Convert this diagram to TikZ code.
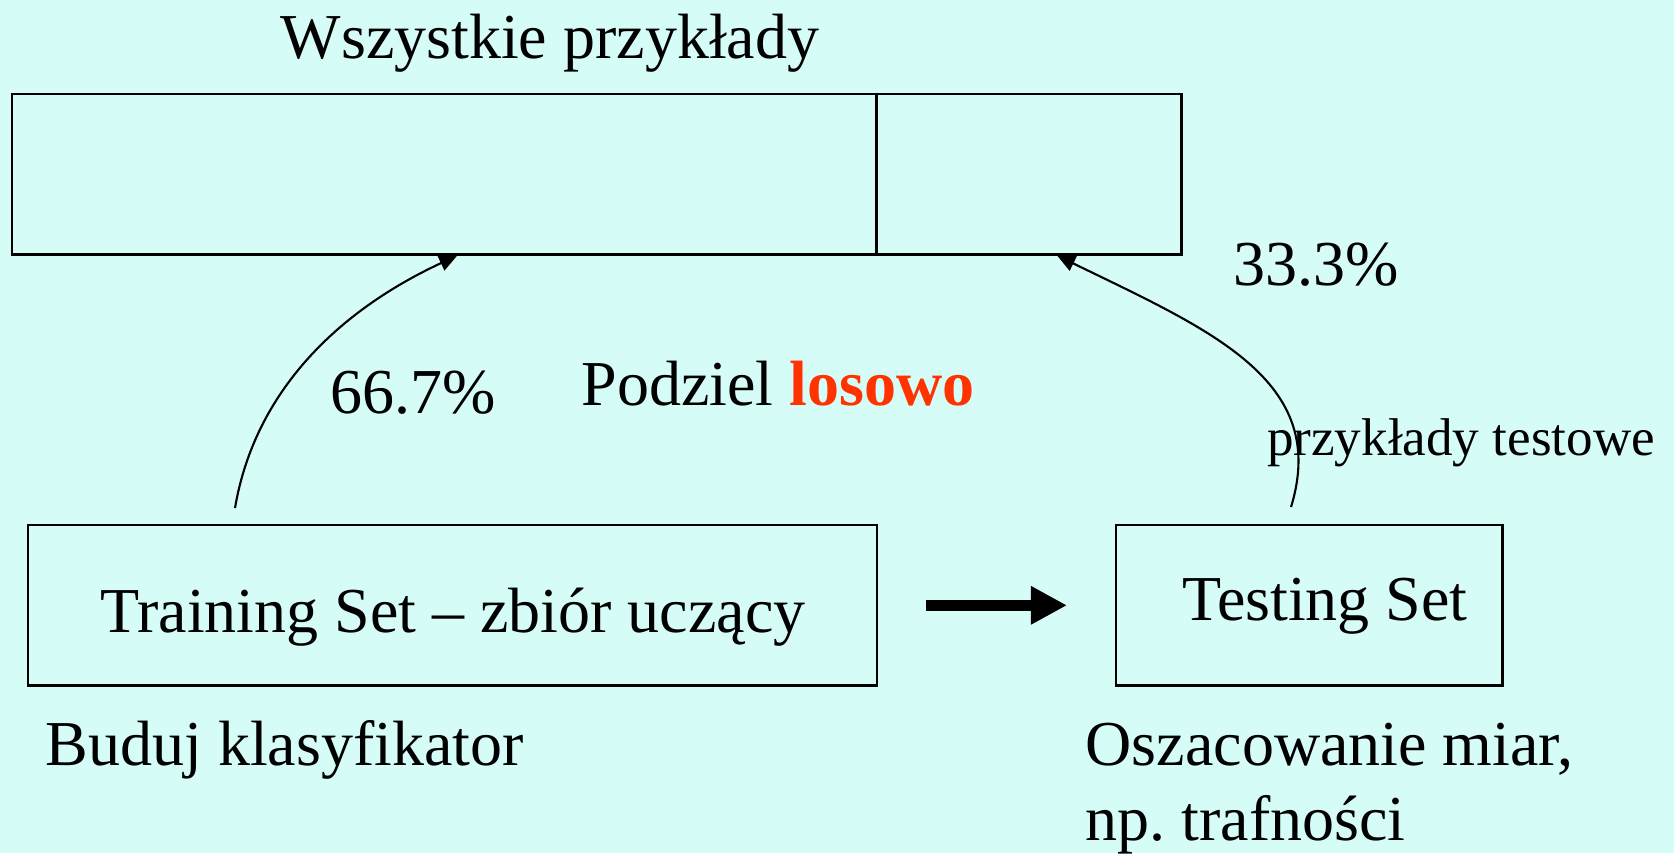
\documentclass[tikz,border=0pt]{standalone}
\usepackage{fontspec}
\setmainfont{Liberation Serif}
\usetikzlibrary{arrows.meta}
\definecolor{bg}{RGB}{213,252,246}
\definecolor{losred}{RGB}{255,51,0}
\frenchspacing
\begin{document}
\begin{tikzpicture}[x=0.01cm,y=-0.01cm,
  box/.style={draw=black,line width=0.7pt,inner sep=0,anchor=north west,minimum height=1.60cm},
  lbl/.style={inner sep=0,font=\fontsize{18.2}{22}\selectfont},
  small/.style={inner sep=0,font=\fontsize{15.1}{18}\selectfont},
  curve/.style={line width=0.6pt,-{Triangle[length=0.18cm,width=0.16cm]}},
  fat/.style={line width=0.115cm,-{Triangle[length=0.36cm,width=0.36cm]}}]
\fill[bg] (0,0) rectangle (1674,853);
\useasboundingbox (0,0) rectangle (1674,853);
% boxes
\node[box,minimum width=8.64cm] (allL) at (11,93) {};
\node[box,minimum width=3.05cm] (allR) at (875,93) {};
\node[box,minimum width=8.48cm] (train) at (27,524) {};
\node[box,minimum width=3.86cm] (test) at (1115,524) {};
% texts
\node[lbl,anchor=base] (title) at (550,58) {Wszystkie przykłady};
\node[lbl,anchor=base] (p33) at (1316,285) {33.3\%};
\node[lbl,anchor=base] (p66) at (413,413) {66.7\%};
\node[lbl,anchor=base] (podz) at (778,405) {Podziel \textcolor{losred}{\textbf{losowo}}};
\node[small,anchor=base] (ptest) at (1461,455) {przykłady testowe};
\node[lbl,anchor=base] (trtxt) at (453,632) {Training Set – zbiór uczący};
\node[lbl,anchor=base] (tetxt) at (1325,620) {Testing Set};
\node[lbl,anchor=base west] (build) at (45,765) {Buduj klasyfikator};
\node[lbl,anchor=base west] (osz) at (1085,765) {Oszacowanie miar,};
\node[lbl,anchor=base west] (np) at (1085,840) {np. trafności};
% connectors
\coordinate (ls) at (235,508);
\coordinate (rs) at (1291,507);
\draw[curve] (ls) .. controls (255,390) and (340,310) .. ([xshift=4.46cm]allL.south west);
\draw[curve] (rs) .. controls (1330,380) and (1210,330) .. ([xshift=1.82cm]allR.south west);
\draw[fat] ([xshift=0.48cm]train.east) -- ([xshift=-0.48cm]test.west);
\end{tikzpicture}
\end{document}
